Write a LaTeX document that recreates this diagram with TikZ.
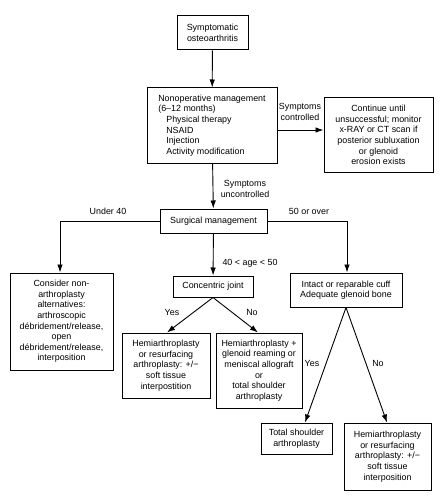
\documentclass[tikz,border=0pt]{standalone}
\usepackage{fontspec}
\setmainfont{Liberation Sans}
\usetikzlibrary{arrows.meta}
\begin{document}
\begin{tikzpicture}[x=1pt,y=-1pt,
  font=\fontsize{8.9}{10.6}\selectfont,
  box/.style={draw, line width=1pt, inner sep=0pt, align=center},
  arr/.style={line width=0.9pt, -{Latex[length=8pt,width=5.5pt]}},
  lbl/.style={inner sep=0pt, align=center}]
\useasboundingbox (0,0) rectangle (439,500);
\fill[white] (0,0) rectangle (439,500);
% boxes
\node[box, minimum width=71pt, minimum height=34pt] (b1) at (212.5,33) {Symptomatic\\osteoarthritis};
\node[box, minimum width=130pt, minimum height=75pt, align=left] (b2) at (212,125.5)
  {Nonoperative management\\(6–12 months)\\\hspace*{8pt}Physical therapy\\\hspace*{8pt}NSAID\\\hspace*{8pt}Injection\\\hspace*{8pt}Activity modification};
\node[box, minimum width=109pt, minimum height=74pt] (b3) at (378.5,135)
  {Continue until\\unsuccessful; monitor\\x-RAY or CT scan if\\posterior subluxation\\or glenoid\\erosion exists};
\node[box, minimum width=107pt, minimum height=24pt] (b4) at (213.5,221) {Surgical management};
\node[box, minimum width=103pt, minimum height=97pt] (b5) at (61.5,321.5)
  {Consider non-\\arthroplasty\\alternatives:\\arthroscopic\\débridement/release,\\open\\débridement/release,\\interposition};
\node[box, minimum width=80pt, minimum height=21pt] (b6) at (213,286.5) {Concentric joint};
\node[box, minimum width=112pt, minimum height=34pt] (b7) at (346,290)
  {Intact or reparable cuff\\Adequate glenoid bone};
\node[box, minimum width=88pt, minimum height=65pt] (b8) at (166,365.5)
  {Hemiarthroplasty\\or resurfacing\\arthroplasty: +/−\\soft tissue\\interpostition};
\node[box, minimum width=86pt, minimum height=75pt] (b9) at (259,370.5)
  {Hemiarthroplasty +\\glenoid reaming or\\meniscal allograft\\or\\total shoulder\\arthroplasty};
\node[box, minimum width=71pt, minimum height=31pt] (b10) at (296.5,438.5)
  {Total shoulder\\arthroplasty};
\node[box, minimum width=87pt, minimum height=67pt] (b11) at (387.5,456.5)
  {Hemiarthroplasty\\or resurfacing\\arthroplasty: +/−\\soft tissue\\interposition};
% labels
\node[lbl] (l1) at (300,112) {Symptoms\\controlled};
\node[lbl] (l2) at (245,189) {Symptoms\\uncontrolled};
\node[lbl] (l3) at (108,211) {Under 40};
\node[lbl] (l4) at (309,211) {50 or over};
\node[lbl] (l5) at (250,263) {40 < age < 50};
\node[lbl] (l6) at (172,312) {Yes};
\node[lbl] (l7) at (252,312) {No};
\node[lbl] (l8) at (312,363) {Yes};
\node[lbl] (l9) at (378,363) {No};
% connectors
\draw[arr] (b1) -- (b2);
\draw[arr] ([yshift=-4.5pt]b2.east) -- ([yshift=-4.5pt]b2.east -| b3.west);
\draw[arr] (b2) -- (b4);
\draw[arr] (b4.west) -| ([xshift=-1.5pt]b5.north);
\draw[arr] (b4.east) -| ([xshift=1pt]b7.north);
\draw[arr] (b4) -- (b6);
\draw[arr] (b6.south) -- ([xshift=1pt]b8.north);
\draw[arr] (b6.south) -- ([xshift=-1pt]b9.north);
\draw[arr] (b7.south) -- ([xshift=8.5pt]b10.north);
\draw[arr] (b7.south) -- ([xshift=-0.5pt]b11.north);
\end{tikzpicture}
\end{document}
